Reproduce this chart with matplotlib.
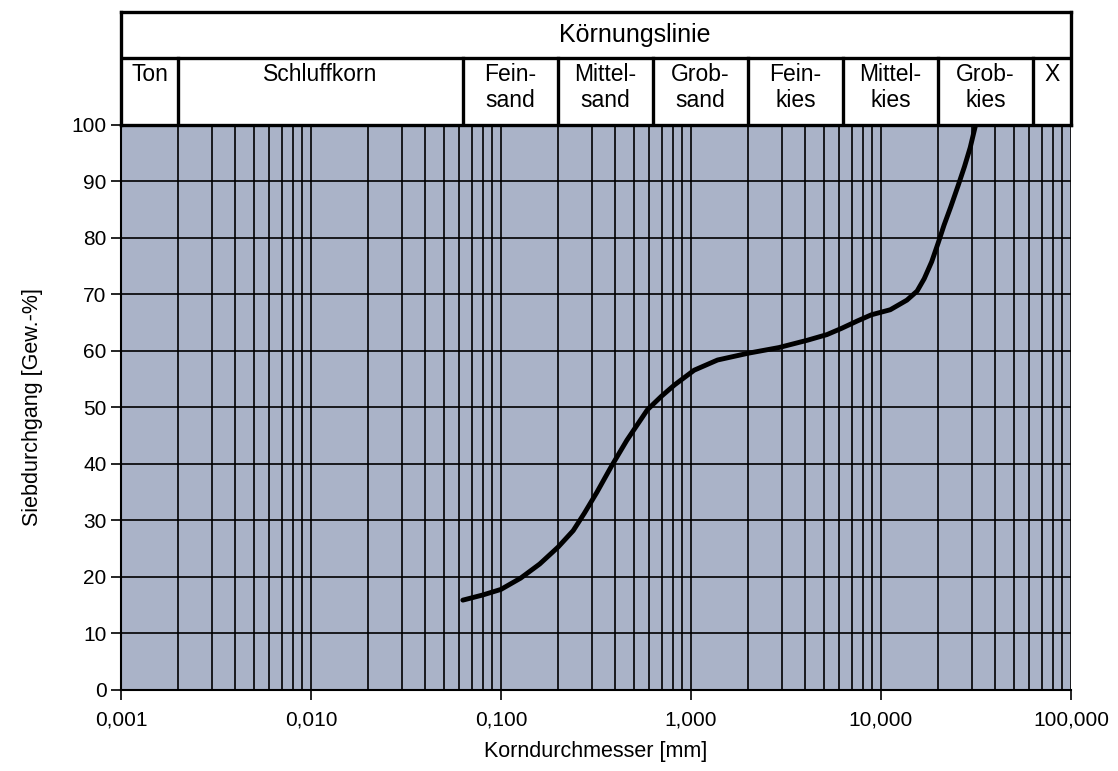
import numpy as np
import matplotlib
matplotlib.use("Agg")
import matplotlib.pyplot as plt
from matplotlib.ticker import FixedLocator, NullFormatter

plt.rcParams['font.family'] = ['Liberation Sans', 'DejaVu Sans']

d_mm = [0.063, 0.08, 0.1, 0.127, 0.16, 0.2, 0.24, 0.275, 0.32, 0.38, 0.46, 0.59,
        0.7, 0.82, 1.04, 1.38, 2.0, 2.9, 4.1, 5.2, 6.2, 7.5, 8.9, 11.2, 13.7,
        15.5, 16.9, 18.5, 20.0, 21.5, 23.3, 25.5, 27.5, 29.5, 31.5]
durchgang = [15.9, 16.8, 17.8, 19.8, 22.3, 25.3, 28.2, 31.3, 35.0, 39.5, 44.2, 49.6,
             52.0, 54.0, 56.6, 58.4, 59.6, 60.6, 61.9, 62.9, 64.0, 65.3, 66.4, 67.3, 69.0,
             70.6, 72.8, 75.8, 79.1, 82.3, 85.5, 89.3, 92.6, 96.0, 100.0]

x_ticks = [0.001, 0.01, 0.1, 1, 10, 100]
x_tick_labels = ["0,001", "0,010", "0,100", "1,000", "10,000", "100,000"]
y_ticks = list(range(0, 101, 10))

# Bodenklassen (Grenzen in mm)
grenzen = [0.001, 0.002, 0.063, 0.2, 0.63, 2.0, 6.3, 20.0, 63.0, 100.0]
klassen = ["Ton", "Schluffkorn", "Fein-\nsand", "Mittel-\nsand", "Grob-\nsand",
           "Fein-\nkies", "Mittel-\nkies", "Grob-\nkies", "X"]

fig = plt.figure(figsize=(11.18, 7.71), dpi=100)
ax = fig.add_axes([0.1082, 0.1051, 0.8497, 0.7328])
hx = fig.add_axes([0.1082, 0.8379, 0.8497, 0.1465])

ax.set_facecolor('#aab3c8')
ax.set_xscale('log')
ax.set_xlim(0.001, 100)
ax.set_ylim(0, 100)

# Raster: alle log-Zwischenwerte senkrecht, alle 10 % waagrecht
minor = [m * 10.0 ** e for e in range(-3, 2) for m in range(2, 10)]
for xv in minor + x_ticks[1:]:
    ax.axvline(xv, color='black', lw=1.2, zorder=1)
for yv in y_ticks[1:]:
    ax.axhline(yv, color='black', lw=1.2, zorder=1)

ax.plot(d_mm, durchgang, color='black', lw=3.5, solid_capstyle='round',
        solid_joinstyle='round', zorder=3)

ax.xaxis.set_major_locator(FixedLocator(x_ticks))
ax.set_xticklabels(x_tick_labels)
ax.xaxis.set_minor_locator(FixedLocator([]))
ax.xaxis.set_minor_formatter(NullFormatter())
ax.set_yticks(y_ticks)
ax.tick_params(axis='both', labelsize=15, direction='out', length=7, width=1.2)
ax.tick_params(axis='x', pad=8)

for s in ['top', 'right']:
    ax.spines[s].set_visible(False)
ax.spines['left'].set_linewidth(1.5)
ax.spines['bottom'].set_linewidth(1.5)

ax.set_xlabel("Korndurchmesser [mm]", fontsize=15.5, labelpad=8)
ax.set_ylabel("Siebdurchgang [Gew.-%]", fontsize=15.5, labelpad=20)

# Kopfzeile
hx.set_xscale('log')
hx.set_xlim(0.001, 100)
hx.set_ylim(0, 1)
hx.set_xticks([])
hx.set_yticks([])
hx.minorticks_off()
for s in hx.spines.values():
    s.set_linewidth(2.4)
teil = 0.593
hx.axhline(teil, color='black', lw=2.4)
for g in grenzen[1:-1]:
    hx.plot([g, g], [0, teil], color='black', lw=2.4)
hx.text(np.sqrt(0.001 * 100) * 1.6, (1 + teil) / 2, "Körnungslinie",
        ha='center', va='center', fontsize=18)
for k, name in enumerate(klassen):
    xm = np.sqrt(grenzen[k] * grenzen[k + 1])
    hx.text(xm, teil - 0.045, name, ha='center', va='top', fontsize=16.5,
            linespacing=1.15)

fig.savefig("out.png", dpi=100)
